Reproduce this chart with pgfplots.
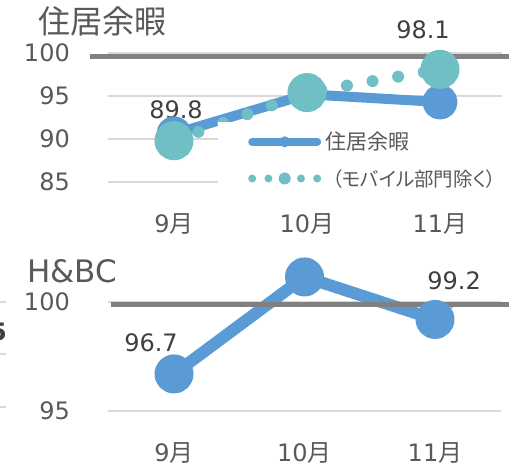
\documentclass[border=0pt]{standalone}
\usepackage{pgfplots}
\pgfplotsset{compat=1.18}
\usepackage{fontspec}
\setmainfont{DejaVu Sans}
\newfontfamily\jp{Noto Sans CJK JP}
\newfontfamily\jpp[RawFeature=+palt]{Noto Sans CJK JP}
\definecolor{cblue}{HTML}{5B9BD5}
\definecolor{cteal}{HTML}{70BFC4}
\definecolor{ctext}{HTML}{595959}
\definecolor{clab}{HTML}{404040}
\definecolor{cgrid}{HTML}{D9D9D9}
\definecolor{cref}{HTML}{808080}
\definecolor{clead}{HTML}{A6A6A6}
\pgfplotsset{
 base/.style={
  scale only axis,
  clip=false,
  axis line style={draw=none},
  major tick length=0pt,
  ymajorgrids,
  grid style={cgrid, line width=1.3pt},
  xtick={0,1,2},
  xticklabels={{9\jp 月},{10\jp 月},{11\jp 月}},
  /pgf/number format/assume math mode=true,
  ticklabel style={font=\fontsize{24}{28}\selectfont, text=ctext, inner sep=0pt},
  yticklabel style={anchor=east, xshift=-38pt},
  xticklabel style={anchor=center, yshift=-42pt},
 }
}
\begin{document}
\begin{tikzpicture}
\useasboundingbox (0,0) rectangle (509pt,469pt);
% ---------- top chart ----------
\begin{axis}[base, at={(108pt,287pt)}, anchor=south west,
  width=394pt, height=129pt,
  xmin=-0.4962, xmax=2.4662, ymin=85, ymax=100, ytick={85,90,95,100},
  legend style={at={(0.2792,0.4651)}, anchor=north west, draw=none, fill=white,
    inner xsep=30pt, inner ysep=10pt, row sep=18pt,
    font=\fontsize{21}{21}\selectfont, text=ctext, nodes={inner sep=0pt},
    /tikz/every odd column/.style={column sep=4pt}},
  legend cell align=left]
\addplot[cblue, line width=10pt, line join=round, mark=*, mark size=12.5pt,
  mark options={solid, draw=none, fill=cblue},
  legend image code/.code={
    \draw[cblue, line width=8pt, line cap=round] (0pt,0pt) -- (65pt,0pt);
    \fill[cblue, draw=none] (32.5pt,0pt) circle (5.5pt);}]
  coordinates {(0,90.6) (1,95.2) (2,94.3)};
\addlegendentry{\jp 住居余暇}
\addplot[cteal, line width=12pt, line cap=round, dash pattern=on 0pt off 26pt,
  mark=*, mark size=13.5pt, mark options={solid, draw=none, fill=cteal},
  legend image code/.code={
    \draw[cteal, line width=8pt, line cap=round, dash pattern=on 0pt off 16.25pt] (0pt,0pt) -- (65.1pt,0pt);
    \fill[cteal, draw=none] (32.5pt,0pt) circle (6pt);}]
  coordinates {(0,89.8) (1,95.4) (2,98.1)};
\addlegendentry{\hspace*{7pt}\jpp\fontsize{19.5}{19.5}\selectfont （モバイル部門除く）}
\addplot[cref, line width=5pt, forget plot] coordinates {(-0.632,99.57) (2.519,99.57)};
\draw[clead, line width=1pt] (axis cs:1.887,100) -- (axis cs:2.0,98.14);
\node[text=clab, font=\fontsize{24}{24}\selectfont, inner sep=0pt] at (axis cs:1.872,102.67) {98.1};
\node[text=clab, font=\fontsize{24}{24}\selectfont, inner sep=0pt] at (axis cs:0.015,93.37) {89.8};
\end{axis}
% ---------- bottom chart ----------
\begin{axis}[base, at={(108pt,58pt)}, anchor=south west,
  width=393pt, height=109pt,
  xmin=-0.5057, xmax=2.5057, ymin=95, ymax=100, ytick={95,100}]
\addplot[cblue, line width=12pt, line join=round, mark=*, mark size=13.5pt,
  mark options={solid, draw=none, fill=cblue}]
  coordinates {(0,96.7) (1,101.15) (2,99.2)};
\addplot[cref, line width=5pt] coordinates {(-0.483,99.9) (2.567,99.9)};
\draw[clead, line width=1pt] (axis cs:2.0,99.22) -- (axis cs:2.138,99.77);
\node[text=clab, font=\fontsize{24}{24}\selectfont, inner sep=0pt] at (axis cs:-0.176,98.12) {96.7};
\node[text=clab, font=\fontsize{24}{24}\selectfont, inner sep=0pt] at (axis cs:2.146,100.96) {99.2};
\end{axis}
% ---------- titles ----------
\node[inner sep=0pt, text=ctext, font=\jp\fontsize{32}{32}\selectfont] at (102.5pt,448pt) {住居余暇};
\node[inner sep=0pt, text=ctext, font=\fontsize{31}{31}\selectfont] at (72pt,198pt) {H\&BC};
% ---------- remnants of neighbouring chart at left edge ----------
\draw[cgrid, line width=1.5pt] (0pt,167pt) -- (6pt,167pt);
\draw[cgrid, line width=1.5pt] (0pt,115pt) -- (6pt,115pt);
\draw[cgrid, line width=1.5pt] (0pt,62pt) -- (6pt,62pt);
\node[anchor=east, inner sep=0pt, text=clab, font=\bfseries\fontsize{24}{24}\selectfont] at (7pt,137pt) {5};
\end{tikzpicture}
\end{document}
